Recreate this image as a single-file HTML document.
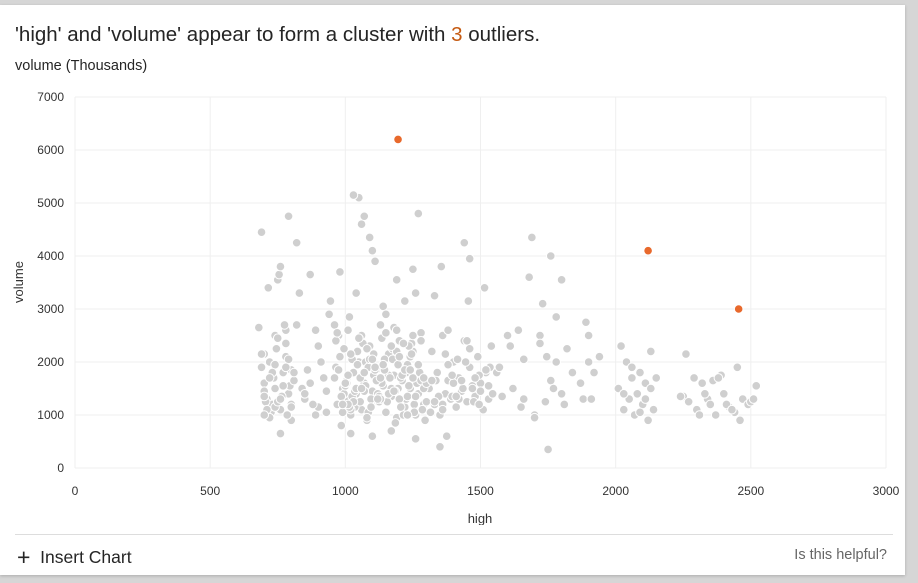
<!DOCTYPE html>
<html><head><meta charset="utf-8"><style>
body{margin:0;width:918px;height:583px;background:#d6d6d6;font-family:"Liberation Sans",sans-serif;overflow:hidden;position:relative}
#card{position:absolute;left:0;top:5px;width:905px;height:570px;background:#fff;box-shadow:0 1px 3px rgba(0,0,0,.2)}
.t{position:absolute;white-space:nowrap}
</style></head><body>
<div id="card">
<div class="t" style="left:15px;top:18px;font-size:20.5px;color:#252525">'high' and 'volume' appear to form a cluster with <span style="color:#c55a11">3</span> outliers.</div>
<div class="t" style="left:15px;top:53px;font-size:14.5px;color:#252525">volume (Thousands)</div>
<svg id="chart" width="905" height="525" style="position:absolute;left:0;top:-5px"></svg>
<div style="position:absolute;left:15px;top:529px;width:878px;height:1px;background:#ddd"></div>
<div class="t" style="left:17px;top:539px;font-size:17.5px;color:#252525;cursor:pointer"><span style="font-size:23px;font-weight:300;vertical-align:-2px">+</span>&nbsp; Insert Chart</div>
<div class="t" style="right:18px;top:542px;font-size:14.5px;color:#666">Is this helpful?</div>
</div>
<script>
const xTicks=[0,500,1000,1500,2000,2500,3000];
const yTicks=[0,1000,2000,3000,4000,5000,6000,7000];
const highs=[680,690,700,700,710,720,730,740,750,760,770,780,790,800,690,705,715,725,735,745,755,765,775,785,795,700,720,740,760,780,800,810,820,690,760,780,800,700,740,790,
830,850,870,890,910,930,940,820,860,900,840,880,920,945,870,810,900,930,850,890,
960,970,980,990,1000,1010,1020,1030,1040,1050,1060,1070,1080,1090,1100,1110,1120,1130,1140,1150,1160,1170,1180,1190,1200,1210,1220,1230,1240,1250,1260,1270,1280,1290,965,985,1005,1025,1045,1065,1085,1105,1125,1145,1165,1185,1205,1225,1245,1265,1285,975,995,1015,1035,1055,1075,1095,1115,1135,1155,1175,1195,1215,1235,1255,1275,1295,960,1000,1040,1080,1120,1160,1200,1240,1280,980,1020,1060,1100,1140,1180,1220,1260,1300,1050,1070,1030,1090,1110,1150,1270,1250,1190,1020,1260,1060,1100,1170,
1310,1320,1330,1340,1350,1360,1370,1380,1390,1400,1410,1420,1430,1440,1450,1460,1470,1480,1490,1500,1510,1520,1530,1540,1315,1335,1355,1375,1395,1415,1435,1455,1475,1495,1515,1535,1350,1400,1450,1500,1440,1460,1380,1330,1360,
1560,1580,1600,1620,1640,1660,1680,1700,1720,1740,1760,1780,1800,1820,1840,1570,1610,1650,1690,1730,1770,1810,1750,1700,1660,1780,1760,1745,1720,1800,
1870,1890,1900,1920,1940,1880,1900,1910,
2010,2020,2030,2040,2050,2060,2070,2080,2090,2100,2110,2120,2130,2140,2150,2030,2060,2090,2110,2130,
2250,2270,2290,2300,2320,2340,2350,2370,2390,2400,2420,2440,2450,2470,2490,2500,2520,2260,2310,2360,2410,2460,2510,2330,2380,2430,2240,
// extra dense core
965,975,985,995,1005,1015,1025,1035,1045,1055,1065,1075,1085,1095,1105,1115,1125,1135,1145,1155,1165,1175,1185,1195,1205,1215,1225,1235,1245,1255,
970,990,1010,1030,1050,1070,1090,1110,1130,1150,1170,1190,1210,1230,1250,1270,1290,1010,1040,1070,1100,1130,1160,1190,1220,1250,1280,1000,1060,1120,
1180,1240,1300,1020,1080,1140,1200,1260,990,1050,1110,1170,1230,1290,
710,730,750,770,790,720,760,800,740,780,700,750,
1320,1345,1370,1395,1420,1445,1470,1495,1520,1545,1330,1380,1430,1480,1530,1360,1410,1460];
const volumes=[2650,4450,1600,2150,1300,2000,1200,1500,3550,1100,1800,2600,1400,900,1900,1250,3400,1050,1700,2250,3650,1350,2700,1000,1550,1450,950,1150,3800,2100,1200,1650,4250,2150,650,2350,1850,1350,1950,4750,
3300,1300,1600,1000,2000,1450,2900,2700,1850,1150,1500,1200,1700,3150,3650,1800,2300,1050,1400,2600,
1700,1200,2100,1500,1300,2600,1000,1800,1400,2000,1100,1600,900,2300,1450,1850,1250,2700,1550,1050,2150,1350,1750,950,2400,1650,1150,1950,1500,2200,1000,1400,2550,1200,1900,800,1650,1350,2200,1500,1050,1750,1250,2050,1450,850,1700,1300,2350,1600,1100,2500,1400,2850,1150,1700,2000,1300,1850,1600,1250,2050,1500,1000,2300,1200,1800,900,2700,1550,3300,950,1400,1750,1300,2100,1650,3700,1100,4600,4100,3050,2650,3150,3300,1250,5100,4750,5150,4350,3900,2900,4800,3750,3550,650,550,2500,600,700,
1500,2200,1200,1800,1000,2500,1400,1650,1300,2000,1150,1700,1450,2400,1250,1900,1550,1350,2100,1600,1100,1800,1300,2300,1050,1650,3800,600,1350,2050,1500,3150,1250,1750,3400,1900,400,1600,2400,1450,4250,3950,2600,3250,1200,
1800,1350,2500,1500,2600,2050,3600,1000,2500,1250,1650,2000,1400,2250,1800,1900,2300,1150,4350,3100,1500,1200,350,950,1300,2850,4000,2100,2350,3550,
1600,2750,2000,1800,2100,1300,2500,1300,
1500,2300,1100,2000,1300,1700,1000,1400,1800,1200,1600,900,2200,1100,1700,1400,1900,1050,1300,1500,
1350,1250,1700,1100,1600,1300,1200,1000,1750,1400,1150,1050,1900,1300,1200,1250,1550,2150,1000,1650,1200,900,1300,1400,1700,1100,1350,
2400,1850,1350,2250,1600,1150,2050,1450,1950,1250,2350,1550,1900,1150,2150,1650,1350,2450,1850,1250,1700,2250,1450,1950,1150,2350,1800,1550,2150,1050,
2550,1050,1750,1250,2450,1450,2050,1850,1300,2550,1500,2200,1750,1350,2500,1950,1500,1200,1500,1800,2050,1700,1400,2600,1850,1700,2400,1600,1500,1300,
1450,1850,1600,2150,2250,1950,2100,1350,1200,2450,1900,2300,1000,1700,
1100,1800,1250,1550,2050,1700,1300,1150,2500,1900,1000,2450,
1650,1350,2150,1750,1300,2000,1500,1200,1850,1400,1250,1950,1650,1700,1550,1100,1350,2250];
const outlierHighs=[1195,2120,2455];
const outlierVolumes=[6200,4100,3000];

const svg=document.getElementById('chart');const NS='http://www.w3.org/2000/svg';
const X0=75,X1=886,Y0=468,Y1=97;
const sx=v=>X0+(v-0)/(3000-0)*(X1-X0);
const sy=v=>Y0-(v-0)/(7000-0)*(Y0-Y1);
function mk(t,a){const e=document.createElementNS(NS,t);for(const k in a)e.setAttribute(k,a[k]);svg.appendChild(e);return e;}
yTicks.forEach(v=>{
 const l=mk('line',{x1:X0,x2:X1,y1:sy(v),y2:sy(v),stroke:'#efefef'});
 
 
 const t=mk('text',{x:64,y:sy(v)+4,'text-anchor':'end','font-size':12,fill:'#333','font-family':'Liberation Sans'});t.textContent=v;
 
 
});
xTicks.forEach(v=>{
 const l=mk('line',{x1:sx(v),x2:sx(v),y1:Y1,y2:Y0,stroke:'#efefef'});
 
 
 const t=mk('text',{x:sx(v),y:495,'text-anchor':'middle','font-size':12,fill:'#333','font-family':'Liberation Sans'});t.textContent=v;
 
 
});
const xt=mk('text',{x:480,y:523,'text-anchor':'middle','font-size':13,fill:'#333','font-family':'Liberation Sans'});xt.textContent='high';


const yt=mk('text',{x:0,y:0,transform:'translate(23,282) rotate(-90)','text-anchor':'middle','font-size':13,fill:'#333','font-family':'Liberation Sans'});yt.textContent='volume';


const n=Math.min(highs.length,volumes.length);
for(let i=0;i<n;i++){
 const c=mk('circle',{cx:sx(highs[i]),cy:sy(volumes[i]),r:4.3,fill:'#cfcfcf',stroke:'#fff','stroke-width':1});
 
 
}
for(let i=0;i<outlierHighs.length;i++){
 const c=mk('circle',{cx:sx(outlierHighs[i]),cy:sy(outlierVolumes[i]),r:4.3,fill:'#e8692c',stroke:'#fff','stroke-width':1});
 
 
}
</script>
</body></html>
